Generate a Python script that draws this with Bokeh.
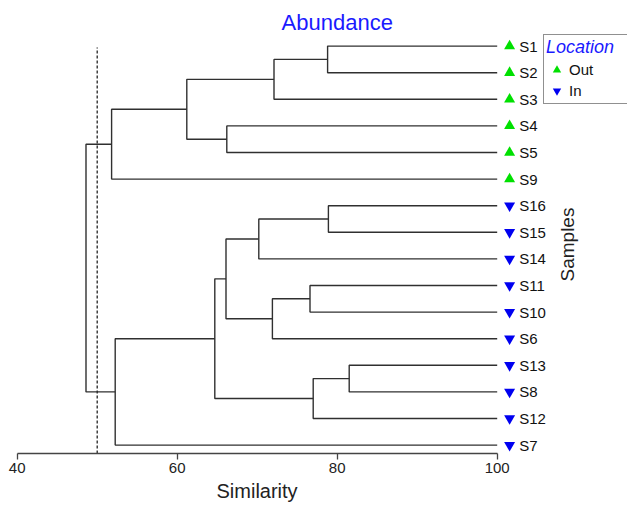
import math
from bokeh.plotting import figure
from bokeh.models import Range1d, FixedTicker, Label, Legend, LegendItem, ColumnDataSource, Title
from bokeh.embed import file_html
from bokeh.resources import INLINE
from bokeh.core.properties import value

# ---------------- data ----------------
title_text = "Abundance"
x_label = "Similarity"
y_label = "Samples"
legend_title = "Location"

leaf_order = ["S1", "S2", "S3", "S4", "S5", "S9", "S16", "S15",
              "S14", "S11", "S10", "S6", "S13", "S8", "S12", "S7"]
leaf_group = ["Out", "Out", "Out", "Out", "Out", "Out", "In", "In",
              "In", "In", "In", "In", "In", "In", "In", "In"]

# hierarchical merges: (left child, right child, similarity at merge)
merge_left = ["S1", "m1", "S4", "m2", "m4", "S16", "m6", "S11", "m8", "m7",
              "S13", "m11", "m10", "m13", "m5"]
merge_right = ["S2", "S3", "S5", "m3", "S9", "S15", "S14", "S10", "S6", "m9",
               "S8", "S12", "m12", "S7", "m14"]
merge_sim = [78.8, 72.1, 66.2, 61.2, 51.8, 78.9, 70.2, 76.6, 71.9, 66.1,
             81.5, 77.0, 64.7, 52.25, 48.6]

leaf_similarity = 100
cutoff = 50
x_ticks = [40, 60, 80, 100]

FONT = "Liberation Sans"
GREEN = "#00e000"
BLUE = "#0000f0"
LINE = "#303030"

# ---------------- dendrogram geometry ----------------
n = len(leaf_order)
node_x = {}
node_y = {}
for i, s in enumerate(leaf_order):
    node_x[s] = leaf_similarity
    node_y[s] = n - 1 - i

xs, ys = [], []
for k, (a, b, h) in enumerate(zip(merge_left, merge_right, merge_sim)):
    name = "m%d" % (k + 1)
    xs.append([node_x[a], h, h, node_x[b]])
    ys.append([node_y[a], node_y[a], node_y[b], node_y[b]])
    node_x[name] = h
    node_y[name] = (node_y[a] + node_y[b]) / 2.0

# ---------------- figure ----------------
W, H = 627, 505
BOTTOM = 52
px_per_unit = 8.0
x0_px = 16.7
x_start = 40 - x0_px / px_per_unit
x_end = x_start + W / px_per_unit

py_per_unit = 26.6
frame_h = H - BOTTOM
y_start = -(frame_h - 444.6) / py_per_unit
y_end = y_start + frame_h / py_per_unit

p = figure(width=W, height=H, output_backend="svg", toolbar_location=None,
           x_range=Range1d(x_start, x_end), y_range=Range1d(y_start, y_end),
           y_axis_location=None, min_border_left=0, min_border_right=0,
           min_border_top=0, min_border_bottom=BOTTOM)
p.background_fill_color = "white"
p.border_fill_color = "white"
p.outline_line_color = None
p.xgrid.visible = False
p.ygrid.visible = False

ax = p.xaxis[0]
ax.bounds = (40, 100)
ax.ticker = FixedTicker(ticks=x_ticks)
ax.minor_tick_line_color = None
ax.major_tick_in = 0
ax.major_tick_out = 6
ax.major_tick_line_color = "#444444"
ax.major_tick_line_width = 1.3
ax.axis_line_color = "#444444"
ax.axis_line_width = 1.6
ax.major_label_text_font = FONT
ax.major_label_text_font_size = "15px"
ax.major_label_text_color = "#222222"
ax.major_label_standoff = 3

# x-axis title, centred under the axis bounds
p.add_layout(Title(text=x_label, align="left", offset=216, standoff=5,
                   text_font=FONT, text_font_size="20px", text_font_style="normal",
                   text_color="#222222"), "below")

# branches
p.multi_line(xs=xs, ys=ys, line_color=LINE, line_width=1.4)

# cutoff line
p.segment(x0=[cutoff], y0=[y_start], x1=[cutoff], y1=[n - 1 - 0.05],
          line_color="#222222", line_width=1.3, line_dash="3 2")

# leaf markers
out_idx = [i for i, g in enumerate(leaf_group) if g == "Out"]
in_idx = [i for i, g in enumerate(leaf_group) if g == "In"]
mark_x = leaf_similarity + 1.55
src_out = ColumnDataSource(dict(x=[mark_x] * len(out_idx),
                                y=[node_y[leaf_order[i]] for i in out_idx]))
src_in = ColumnDataSource(dict(x=[mark_x] * len(in_idx),
                               y=[node_y[leaf_order[i]] for i in in_idx]))
r_out = p.scatter("x", "y", source=src_out, marker="triangle", size=11,
                  fill_color=GREEN, line_color=None)
r_in = p.scatter("x", "y", source=src_in, marker="inverted_triangle", size=11,
                 fill_color=BLUE, line_color=None)

# leaf labels
p.text(x=[leaf_similarity + 2.75] * n, y=[node_y[s] for s in leaf_order], text=leaf_order,
       text_font=value(FONT), text_font_size="15px", text_color="#111111",
       text_align="left", text_baseline="middle")

# title
p.add_layout(Label(x=80, y=15.9, text=title_text, text_font=FONT,
                   text_font_size="22px", text_color="#1a1aff",
                   text_align="center", text_baseline="middle"))

# y label (right side)
p.add_layout(Label(x=108.8, y=7.54, text=y_label, text_font=FONT,
                   text_font_size="19px", text_color="#222222", angle=math.pi / 2,
                   text_align="center", text_baseline="middle"))

# legend
legend = Legend(items=[LegendItem(label="Out", renderers=[r_out]),
                       LegendItem(label="In", renderers=[r_in])],
                location=(543, 349), title=legend_title,
                title_text_font=FONT, title_text_font_size="18px",
                title_text_font_style="italic", title_text_color="#1a1aff",
                title_standoff=1,
                label_text_font=FONT, label_text_font_size="15px",
                label_text_color="#111111",
                glyph_width=21, glyph_height=21, label_height=21,
                label_standoff=2, label_width=90, spacing=0, padding=2, margin=0,
                border_line_color="#222222", border_line_width=1,
                background_fill_color="white", background_fill_alpha=1)
p.add_layout(legend)

open("out.html", "w").write(file_html(p, INLINE))
